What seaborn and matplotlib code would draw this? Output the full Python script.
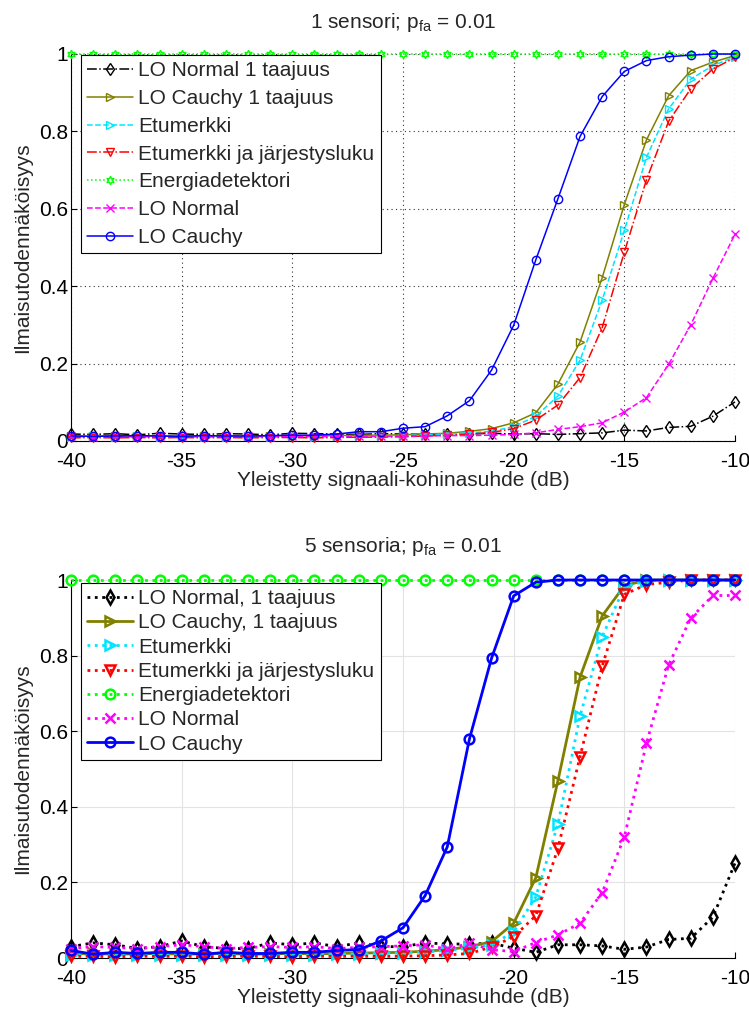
import matplotlib
matplotlib.use("Agg")
import matplotlib.pyplot as plt
import seaborn as sns

sns.set_theme(style="white")
plt.rcParams["font.family"] = ["Liberation Sans", "DejaVu Sans"]
plt.rcParams["mathtext.default"] = "regular"

# SNR axis (dB)
snr = list(range(-40, -9))

# ---- 1 sensor, p_fa = 0.01 ----
top_lo_normal_1f = [0.018, 0.017, 0.019, 0.016, 0.020, 0.018, 0.017, 0.019, 0.018, 0.016,
                    0.020, 0.019, 0.018, 0.017, 0.019, 0.018, 0.017, 0.019, 0.018, 0.020,
                    0.018, 0.019, 0.017, 0.019, 0.021, 0.028, 0.026, 0.035, 0.038, 0.064, 0.101]
top_lo_cauchy_1f = [0.013, 0.012, 0.014, 0.012, 0.013, 0.012, 0.014, 0.013, 0.012, 0.013,
                    0.014, 0.013, 0.014, 0.015, 0.015, 0.016, 0.018, 0.020, 0.025, 0.032,
                    0.047, 0.073, 0.147, 0.256, 0.422, 0.611, 0.778, 0.892, 0.957, 0.979, 0.996]
top_etumerkki = [0.011, 0.012, 0.010, 0.012, 0.011, 0.012, 0.011, 0.010, 0.012, 0.011,
                 0.012, 0.011, 0.012, 0.013, 0.013, 0.014, 0.016, 0.018, 0.021, 0.025,
                 0.037, 0.064, 0.116, 0.209, 0.364, 0.544, 0.733, 0.858, 0.935, 0.970, 0.993]
top_etumerkki_jarj = [0.008, 0.009, 0.008, 0.009, 0.008, 0.009, 0.008, 0.009, 0.008, 0.009,
                      0.009, 0.008, 0.009, 0.010, 0.010, 0.011, 0.013, 0.015, 0.018, 0.022,
                      0.032, 0.054, 0.093, 0.164, 0.293, 0.488, 0.675, 0.826, 0.910, 0.961, 0.991]
top_energia = [1.0] * 31
top_lo_normal = [0.012, 0.011, 0.012, 0.011, 0.012, 0.012, 0.011, 0.012, 0.012, 0.011,
                 0.012, 0.012, 0.012, 0.013, 0.012, 0.013, 0.013, 0.014, 0.014, 0.015,
                 0.017, 0.021, 0.030, 0.037, 0.047, 0.075, 0.112, 0.198, 0.300, 0.420, 0.534]
top_lo_cauchy = [0.013, 0.012, 0.013, 0.014, 0.013, 0.012, 0.014, 0.013, 0.013, 0.014,
                 0.015, 0.015, 0.018, 0.024, 0.024, 0.033, 0.037, 0.065, 0.104, 0.183,
                 0.299, 0.468, 0.626, 0.787, 0.890, 0.955, 0.983, 0.993, 0.997, 1.0, 1.0]

# ---- 5 sensors, p_fa = 0.01 ----
bot_lo_normal_1f = [0.030, 0.040, 0.035, 0.025, 0.030, 0.045, 0.030, 0.025, 0.025, 0.040,
                    0.035, 0.040, 0.030, 0.040, 0.030, 0.030, 0.040, 0.037, 0.037, 0.039,
                    0.026, 0.015, 0.035, 0.035, 0.032, 0.023, 0.029, 0.049, 0.052, 0.108, 0.251]
bot_lo_cauchy_1f = [0.010, 0.012, 0.010, 0.011, 0.012, 0.010, 0.011, 0.012, 0.010, 0.011,
                    0.012, 0.011, 0.012, 0.013, 0.014, 0.015, 0.018, 0.022, 0.030, 0.043,
                    0.092, 0.212, 0.469, 0.743, 0.905, 0.985, 1.0, 1.0, 1.0, 1.0, 1.0]
bot_etumerkki = [0.008, 0.009, 0.008, 0.009, 0.008, 0.009, 0.008, 0.009, 0.008, 0.009,
                 0.008, 0.009, 0.010, 0.011, 0.012, 0.014, 0.016, 0.020, 0.026, 0.035,
                 0.069, 0.162, 0.354, 0.640, 0.850, 0.981, 0.998, 1.0, 1.0, 1.0, 1.0]
bot_etumerkki_jarj = [0.004, 0.005, 0.003, 0.005, 0.004, 0.005, 0.003, 0.004, 0.005, 0.004,
                      0.003, 0.005, 0.004, 0.005, 0.004, 0.005, 0.006, 0.008, 0.012, 0.029,
                      0.056, 0.112, 0.290, 0.533, 0.772, 0.962, 0.988, 0.994, 1.0, 1.0, 1.0]
bot_energia = [1.0] * 31
bot_lo_normal = [0.025, 0.030, 0.028, 0.025, 0.030, 0.035, 0.030, 0.025, 0.028, 0.030,
                 0.028, 0.030, 0.025, 0.028, 0.030, 0.032, 0.035, 0.023, 0.039, 0.022,
                 0.017, 0.041, 0.061, 0.092, 0.173, 0.320, 0.568, 0.775, 0.899, 0.959, 0.959]
bot_lo_cauchy = [0.020, 0.010, 0.015, 0.012, 0.015, 0.015, 0.010, 0.015, 0.012, 0.012,
                 0.015, 0.015, 0.020, 0.022, 0.045, 0.080, 0.165, 0.294, 0.579, 0.793,
                 0.958, 0.994, 1.0, 1.0, 1.0, 1.0, 1.0, 1.0, 1.0, 1.0, 1.0]

x_ticks = [-40, -35, -30, -25, -20, -15, -10]
y_ticks = [0, 0.2, 0.4, 0.6, 0.8, 1.0]
y_tick_labels = ["0", "0.2", "0.4", "0.6", "0.8", "1"]

top_series = [
    ("LO Normal 1 taajuus", top_lo_normal_1f, "black", "-.", "d"),
    ("LO Cauchy 1 taajuus", top_lo_cauchy_1f, "#808000", "-", ">"),
    ("Etumerkki", top_etumerkki, "#00e5ff", "--", ">"),
    ("Etumerkki ja järjestysluku", top_etumerkki_jarj, "#ff0000", "-.", "v"),
    ("Energiadetektori", top_energia, "#00ff00", ":", (6, 1, 0)),
    ("LO Normal", top_lo_normal, "#ff00ff", "--", "x"),
    ("LO Cauchy", top_lo_cauchy, "#0000ff", "-", "o"),
]
bot_series = [
    ("LO Normal, 1 taajuus", bot_lo_normal_1f, "black", ":", "d"),
    ("LO Cauchy, 1 taajuus", bot_lo_cauchy_1f, "#808000", "-", ">"),
    ("Etumerkki", bot_etumerkki, "#00e5ff", ":", ">"),
    ("Etumerkki ja järjestysluku", bot_etumerkki_jarj, "#ff0000", ":", "v"),
    ("Energiadetektori", bot_energia, "#00ff00", ":", "o"),
    ("LO Normal", bot_lo_normal, "#ff00ff", ":", "x"),
    ("LO Cauchy", bot_lo_cauchy, "#0000ff", "-", "o"),
]

FS = 15
fig = plt.figure(figsize=(7.49, 10.10), dpi=100)
W, H = 749, 1010


def axes_px(left, top, right, bottom):
    return fig.add_axes([left / W, 1 - bottom / H, (right - left) / W, (bottom - top) / H])


ax1 = axes_px(71, 54, 735, 441)
ax2 = axes_px(71, 580, 735, 958)


def draw(ax, series, lw, ms, mew, title, title_pad, grid_kw, labelspacing, leg_top):
    for label, vals, color, ls, mk in series:
        sns.lineplot(x=snr, y=vals, ax=ax, color=color, linestyle=ls, linewidth=lw,
                     marker=mk, markersize=ms, markerfacecolor="none",
                     markeredgecolor=color, markeredgewidth=mew, label=label,
                     clip_on=False, zorder=3)
    ax.set_xlim(-40, -10)
    ax.set_ylim(0, 1)
    ax.set_xticks(x_ticks)
    ax.set_xticklabels([str(t) for t in x_ticks])
    ax.set_yticks(y_ticks)
    ax.set_yticklabels(y_tick_labels)
    ax.tick_params(direction="in", length=4, width=0.8, labelsize=FS, colors="black",
                   bottom=True, left=True)
    ax.tick_params(axis="x", pad=8)
    ax.tick_params(axis="y", pad=2)
    for s in ("top", "right"):
        ax.spines[s].set_visible(False)
    for s in ("left", "bottom"):
        ax.spines[s].set_color("black")
        ax.spines[s].set_linewidth(0.8)
    ax.grid(True, **grid_kw)
    ax.set_facecolor("white")
    ax.set_title(title, fontsize=FS, pad=title_pad)
    ax.set_xlabel("Yleistetty signaali-kohinasuhde (dB)", fontsize=FS, labelpad=0)
    ax.set_ylabel("Ilmaisutodennäköisyys", fontsize=FS, labelpad=5)
    leg = ax.legend(loc="upper left", bbox_to_anchor=(0.015, leg_top), borderaxespad=0,
                    fontsize=FS, frameon=True, fancybox=False, edgecolor="black",
                    framealpha=1, numpoints=1, handlelength=2.2, handletextpad=0.25,
                    labelspacing=labelspacing, borderpad=0.3)
    leg.get_frame().set_linewidth(0.8)
    leg.set_zorder(5)


draw(ax1, top_series, 1.1, 6, 1.0, r"1 sensori; p$_{fa}$ = 0.01", 19,
     dict(color="0.2", linestyle=(0, (1, 3)), linewidth=0.8), 0.42, 0.997)
draw(ax2, bot_series, 2.0, 7, 1.8, r"5 sensoria; p$_{fa}$ = 0.01", 20,
     dict(color="#e3e3e3", linestyle="-", linewidth=0.8), 0.25, 0.992)

fig.savefig("out.png", dpi=100, facecolor="white")
